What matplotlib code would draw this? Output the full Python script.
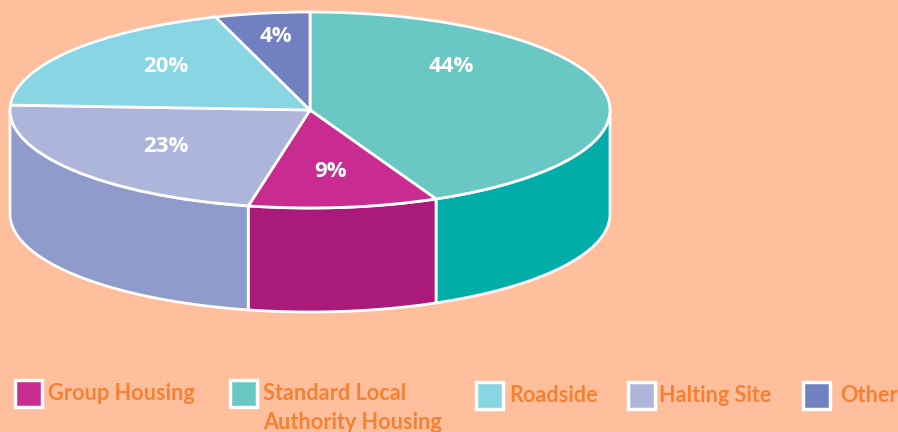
import numpy as np
import matplotlib
matplotlib.use('Agg')
import matplotlib.pyplot as plt
from matplotlib.patches import Rectangle

# Data
categories = ['Standard Local\nAuthority Housing', 'Group Housing', 'Halting Site', 'Roadside', 'Other']
pct_labels = ['44%', '9%', '23%', '20%', '4%']
# slice sizes as drawn in the picture (they differ a bit from the printed labels)
drawn_sizes = [43.1, 10.2, 22.5, 19.1, 5.1]
top_colors = ['#69C7C4', '#C92C90', '#AEB5DA', '#88D5E4', '#7080C0']
side_colors = ['#00ADA9', '#AA1A7B', '#8F9CCB', '#88D5E4', '#7080C0']

legend_order = ['Group Housing', 'Standard Local\nAuthority Housing', 'Roadside', 'Halting Site', 'Other']
legend_swatch_x = [15, 230, 476, 628, 803]
legend_text_x = [48, 263, 509, 659, 840]

BG = '#FFBE9C'
ORANGE = '#F58233'
WHITE = 'white'
W, H = 898, 432
CX, CY, RX, RY, DEPTH = 310, 110, 300, 98, 104

plt.rcParams['font.family'] = ['Lato', 'DejaVu Sans']

fig = plt.figure(figsize=(W / 100, H / 100), dpi=100, facecolor=BG)
ax = fig.add_axes([0, 0, 1, 1])
ax.set_facecolor(BG)
ax.axis('off')


# pixel position -> unit circle coordinates
def ux(px):
    return (px - CX) / RX


def uy(py):
    return (CY - py) / RY


ax.set_xlim(ux(0), ux(W))
ax.set_ylim(uy(H), uy(0))

depth = DEPTH / RY
edges = np.cumsum([0] + drawn_sizes) * 3.6  # degrees clockwise from the top

# Side walls, only where the rim faces the viewer
for i, col in enumerate(side_colors):
    a0, a1 = max(edges[i], 90), min(edges[i + 1], 270)
    if a1 <= a0:
        continue
    t = np.radians(np.linspace(a0, a1, 120))
    x = np.sin(t)
    y = np.cos(t)
    ax.fill(np.r_[x, x[::-1]], np.r_[y, y[::-1] - depth], facecolor=col,
            edgecolor=WHITE, linewidth=2, joinstyle='round', zorder=1)

# Top of the pie
ax.pie(drawn_sizes, colors=top_colors, startangle=90, counterclock=False, radius=1,
       wedgeprops=dict(edgecolor=WHITE, linewidth=2), normalize=True)
ax.set_aspect('auto')
ax.set_xlim(ux(0), ux(W))
ax.set_ylim(uy(H), uy(0))

# Percent labels
label_px = [(451, 67), (331, 172), (166, 147), (166, 67), (276, 37)]
for txt, (px, py) in zip(pct_labels, label_px):
    ax.text(ux(px), uy(py), txt, color=WHITE, fontsize=16, fontweight='bold',
            ha='center', va='center', family=['Open Sans', 'DejaVu Sans'], zorder=5)

# Legend
for name, sx, tx in zip(legend_order, legend_swatch_x, legend_text_x):
    col = top_colors[categories.index(name)]
    sy = 380 if sx < 400 else 382
    ax.add_patch(Rectangle((ux(sx), uy(sy + 27)), 27 / RX, 27 / RY, facecolor=col,
                           edgecolor=WHITE, linewidth=2.5, zorder=5))
    ax.text(ux(tx), uy(sy + 3), name, color=ORANGE, fontsize=15.6, fontweight='bold',
            ha='left', va='top', linespacing=1.47, zorder=5)

fig.savefig('out.png', dpi=100, facecolor=BG)
